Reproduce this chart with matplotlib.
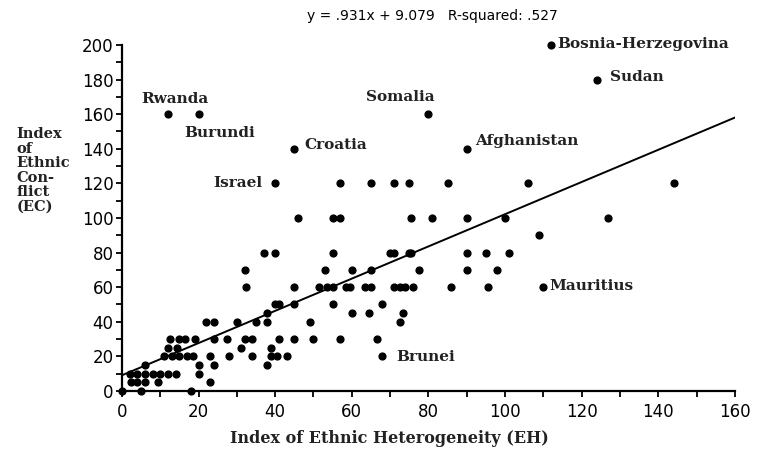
import numpy as np
import matplotlib
matplotlib.use("Agg")
import matplotlib.pyplot as plt

# ethnic heterogeneity (EH) vs ethnic conflict (EC)
eh = [112, 124,
      12, 20, 80,
      45, 90,
      40, 57, 65, 71, 75, 85, 106, 144,
      46, 55, 57, 75.5, 81, 90, 100, 127,
      109,
      37, 40, 55, 70, 71, 75, 75.5, 90, 95, 101,
      32, 53, 60, 65, 77.5, 90, 98,
      32.5, 45, 51.5, 53.5, 55, 58.5, 59.5, 63.5, 65, 71, 72.5, 74, 76, 86, 95.5, 110,
      40, 41, 45, 55, 68,
      38, 60, 64.5, 73.5,
      22, 24, 30, 35, 38, 49, 72.5,
      12.5, 15, 16.5, 19, 24, 27.5, 32, 34, 41, 45, 50, 57, 66.5,
      12, 14.5, 31, 39,
      11, 13, 15, 17, 18.5, 23, 28, 34, 39, 40.5, 43, 68,
      6, 20, 24, 38,
      2, 4, 6, 8, 10, 12, 14, 20,
      2.5, 4, 6, 9.5, 23,
      0, 5, 18]
ec = [200, 180,
      160, 160, 160,
      140, 140,
      120, 120, 120, 120, 120, 120, 120, 120,
      100, 100, 100, 100, 100, 100, 100, 100,
      90,
      80, 80, 80, 80, 80, 80, 80, 80, 80, 80,
      70, 70, 70, 70, 70, 70, 70,
      60, 60, 60, 60, 60, 60, 60, 60, 60, 60, 60, 60, 60, 60, 60, 60,
      50, 50, 50, 50, 50,
      45, 45, 45, 45,
      40, 40, 40, 40, 40, 40, 40,
      30, 30, 30, 30, 30, 30, 30, 30, 30, 30, 30, 30, 30,
      25, 25, 25, 25,
      20, 20, 20, 20, 20, 20, 20, 20, 20, 20, 20, 20,
      15, 15, 15, 15,
      10, 10, 10, 10, 10, 10, 10, 10,
      5, 5, 5, 5, 5,
      0, 0, 0]

slope = 0.931
intercept = 9.079
r_squared = ".527"

countries = ["Rwanda", "Burundi", "Somalia", "Croatia", "Israel", "Afghanistan",
             "Bosnia-Herzegovina", "Sudan", "Mauritius", "Brunei"]
label_x = [13.8, 16.4, 72.6, 47.5, 36.6, 92.2, 113.6, 127.4, 111.7, 71.5]
label_y = [169, 149, 170, 142, 120, 144.5, 200.5, 181.5, 60.7, 19.7]
label_ha = ["center", "left", "center", "left", "right", "left", "left", "left", "left", "left"]

fig = plt.figure(figsize=(7.62, 4.54), dpi=100)
ax = fig.add_axes([0.160, 0.1388, 0.8044, 0.7621])

ax.scatter(eh, ec, s=24, color="black", zorder=3, clip_on=False)
xs = np.array([0, 160])
ax.plot(xs, slope * xs + intercept, color="black", lw=1.4)

serif = ["DejaVu Serif"]
for name, tx, ty, ha in zip(countries, label_x, label_y, label_ha):
    ax.text(tx, ty, name, ha=ha, va="center", fontsize=11, family=serif,
            fontweight="bold", color="#222222", clip_on=False)

ax.set_xlim(0, 160)
ax.set_ylim(0, 200)
ax.set_xticks(range(0, 161, 20))
ax.set_yticks(range(0, 201, 20))
ax.set_xticks(range(0, 161, 10), minor=True)
ax.set_yticks(range(0, 201, 10), minor=True)
for s in ["top", "right"]:
    ax.spines[s].set_visible(False)
ax.spines["left"].set_linewidth(1.6)
ax.spines["bottom"].set_linewidth(1.6)
ax.tick_params(which="both", direction="out", length=4, width=1.3, labelsize=12)
ax.tick_params(axis="x", pad=5)
ax.tick_params(axis="y", pad=2)

fig.text(0.568, 0.965, "y = .931x + 9.079   R-squared: " + r_squared,
         ha="center", va="center", fontsize=10)
fig.text(0.511, 0.035, "Index of Ethnic Heterogeneity (EH)", ha="center", va="center",
         fontsize=11.5, family=serif, fontweight="bold", color="#222222")
fig.text(0.022, 0.72, "Index\nof\nEthnic\nCon-\nflict\n(EC)", ha="left", va="top",
         fontsize=10.5, family=serif, fontweight="bold", color="#222222", linespacing=1.05)

fig.savefig("out.png", dpi=100)
